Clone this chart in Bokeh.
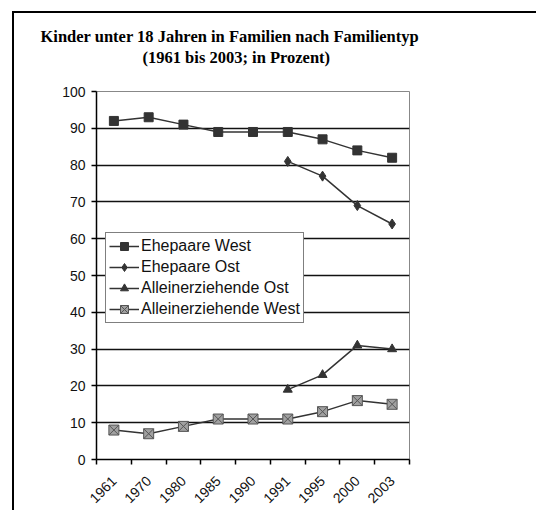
import math
from bokeh.plotting import figure
from bokeh.models import (FactorRange, Range1d, LinearAxis, FixedTicker, Legend, LegendItem, Title)
from bokeh.embed import file_html
from bokeh.resources import INLINE

# ---- data ----
years = ["1961", "1970", "1980", "1985", "1990", "1991", "1995", "2000", "2003"]
ehepaare_west = [92, 93, 91, 89, 89, 89, 87, 84, 82]
ost_years = ["1991", "1995", "2000", "2003"]
ehepaare_ost = [81, 77, 69, 64]
allein_ost = [19, 23, 31, 30]
allein_west = [8, 7, 9, 11, 11, 11, 13, 16, 15]
y_ticks = [0, 10, 20, 30, 40, 50, 60, 70, 80, 90, 100]
title_main = "Kinder unter 18 Jahren in Familien nach Familientyp"
title_sub = "(1961 bis 2003; in Prozent)"

FONT = "Liberation Sans"
DARK = "#333333"

p = figure(width=536, height=510, x_range=FactorRange(*years, range_padding=0),
           y_range=Range1d(0, 100), x_axis_type=None, output_backend="svg",
           toolbar_location=None, min_border_left=96, min_border_right=127,
           min_border_top=91, min_border_bottom=51)
p.background_fill_color = "white"
p.border_fill_color = None
p.outline_line_color = "#888888"
p.outline_line_width = 1
# outer chart frame: left and top edges
p.styles = {
    "background-color": "white",
    "background-image": "linear-gradient(#000,#000), linear-gradient(#000,#000)",
    "background-size": "2px 100%, 100% 2px",
    "background-position": "12px 11px, 12px 11px",
    "background-repeat": "no-repeat",
}

# x axis: labels at category centres, ticks at category boundaries
n = len(years)
xaxis = LinearAxis(ticker=FixedTicker(ticks=[i + 0.5 for i in range(n)],
                                      minor_ticks=list(range(n + 1))))
xaxis.major_label_overrides = {i + 0.5: y for i, y in enumerate(years)}
xaxis.major_label_orientation = math.pi / 4
xaxis.major_tick_line_color = None
xaxis.minor_tick_out = 5
xaxis.minor_tick_in = 0
xaxis.minor_tick_line_color = "black"
xaxis.minor_tick_line_width = 1.5
xaxis.axis_line_color = "black"
xaxis.axis_line_width = 1.5
xaxis.major_label_text_font = FONT
xaxis.major_label_text_font_size = "14px"
xaxis.major_label_text_color = "#111111"
xaxis.major_label_standoff = 13
p.add_layout(xaxis, "below")

ya = p.yaxis[0]
ya.ticker = FixedTicker(ticks=y_ticks)
ya.minor_tick_line_color = None
ya.major_tick_out = 5
ya.major_tick_in = 0
ya.major_tick_line_color = "black"
ya.major_tick_line_width = 1.5
ya.axis_line_color = "black"
ya.axis_line_width = 1.5
ya.major_label_text_font = FONT
ya.major_label_text_font_size = "14px"
ya.major_label_text_color = "#111111"
ya.major_label_standoff = 6

p.ygrid.ticker = FixedTicker(ticks=y_ticks)
p.ygrid.grid_line_color = "#111111"
p.ygrid.grid_line_width = 1.5

# series
l1 = p.line(years, ehepaare_west, line_color=DARK, line_width=1.5)
m1 = p.scatter(years, ehepaare_west, marker="square", size=9, fill_color=DARK, line_color=DARK)
l2 = p.line(ost_years, ehepaare_ost, line_color=DARK, line_width=1.5)
m2 = p.scatter(ost_years, ehepaare_ost, marker="diamond", size=10, fill_color=DARK, line_color=DARK)
l3 = p.line(ost_years, allein_ost, line_color=DARK, line_width=1.5)
m3 = p.scatter(ost_years, allein_ost, marker="triangle", size=9, fill_color=DARK, line_color=DARK)
l4 = p.line(years, allein_west, line_color=DARK, line_width=1.5)
m4 = p.scatter(years, allein_west, marker="square_x", size=10, fill_color="#a0a0a0", line_color="#555555")

legend = Legend(items=[
    LegendItem(label="Ehepaare West", renderers=[l1, m1]),
    LegendItem(label="Ehepaare Ost", renderers=[l2, m2]),
    LegendItem(label="Alleinerziehende Ost", renderers=[l3, m3]),
    LegendItem(label="Alleinerziehende West", renderers=[l4, m4]),
], location=(9, 136))
legend.label_text_font = FONT
legend.label_text_font_size = "16px"
legend.label_text_color = "#111111"
legend.glyph_width = 30
legend.glyph_height = 20
legend.label_height = 20
legend.label_standoff = 2
legend.spacing = 1
legend.padding = 3
legend.margin = 0
legend.border_line_color = "black"
legend.border_line_width = 1.5
legend.background_fill_color = "white"
legend.background_fill_alpha = 1
p.add_layout(legend, "center")

# spacer between the plot and the title block
p.add_layout(Title(text=" ", standoff=22, text_font_size="1px"), "above")
# two-line title (sub line added first -> closest to the plot)
p.add_layout(Title(text=title_sub, align="left", offset=46, standoff=0,
                   text_font="Liberation Serif", text_font_style="bold",
                   text_font_size="16.5px", text_line_height=0.6,
                   text_color="black"), "above")
p.add_layout(Title(text=title_main, align="left", offset=-56, standoff=0,
                   text_font="Liberation Serif", text_font_style="bold",
                   text_font_size="16.5px", text_line_height=0.8,
                   text_color="black"), "above")

open("out.html", "w").write(file_html(p, INLINE))
